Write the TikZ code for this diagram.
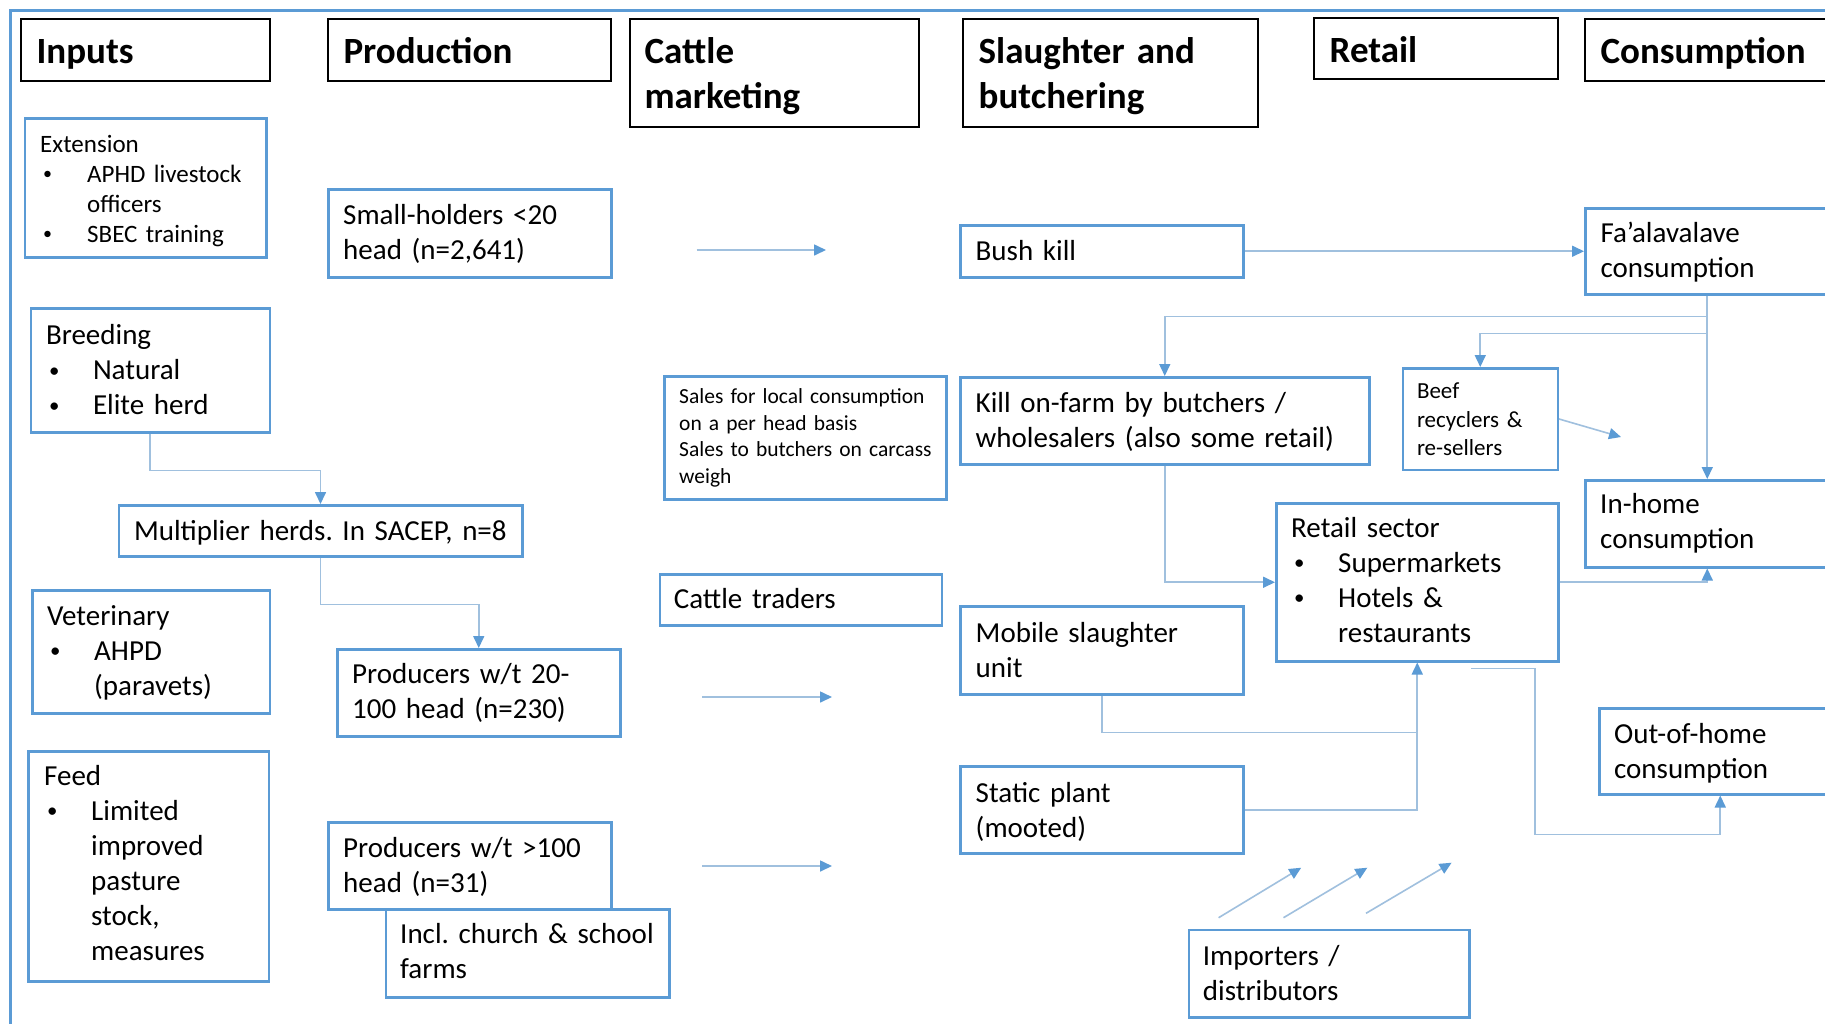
\documentclass[tikz,border=0pt]{standalone}
\usepackage{fontspec}
\setmainfont{Carlito}
\usetikzlibrary{arrows.meta,calc}
\definecolor{bblue}{RGB}{91,155,213}
\definecolor{cblue}{RGB}{160,192,222}
\newcommand\tst{\rule{0pt}{1em}}
\newcommand\bitem{\makebox[47pt][l]{\hspace{3pt}\raisebox{0.1em}{\scalebox{0.72}{\textbullet}}}}
\newcommand\bcont{\hspace*{47pt}}
\frenchspacing
\begin{document}
\begin{tikzpicture}[x=1pt,y=-1pt,
  hdr/.style={draw=black, line width=2.2pt, inner sep=0pt, anchor=north west},
  bx/.style={draw=bblue, line width=2.5pt, inner sep=0pt, anchor=north west},
  conn/.style={draw=cblue, line width=1.6pt},
  arr/.style={conn, -{Triangle[length=12pt,width=11pt,color=bblue]}},
  txt/.style={inner sep=0pt, anchor=north west, align=left, text width=460pt, yshift=-2pt},
  fh/.style={txt, font=\bfseries\fontsize{37}{45}\selectfont},
  fb/.style={txt, font=\fontsize{29}{35}\selectfont},
  fe/.style={txt, font=\fontsize{25}{30}\selectfont},
  fsm/.style={txt, font=\fontsize{21.5}{26.7}\selectfont},
  fr/.style={txt, font=\fontsize{23}{28.3}\selectfont}]
\useasboundingbox (0,0) rectangle (1825,1023);
\clip (0,0) rectangle (1825,1023);
\fill[white] (0,0) rectangle (1825,1023);
\draw[bblue, line width=2.5pt] (10.5,1030) -- (10.5,10.5) -- (1830,10.5);

% headers
\node[hdr, minimum width=249pt, minimum height=62pt] (hin) at (19.5,18) {};
\node[hdr, minimum width=283pt, minimum height=62pt] (hprod) at (327,18) {};
\node[hdr, minimum width=289pt, minimum height=108pt] (hcat) at (629,18) {};
\node[hdr, minimum width=295pt, minimum height=108pt] (hsla) at (962,18) {};
\node[hdr, minimum width=244pt, minimum height=61pt] (hret) at (1313,17) {};
\node[hdr, minimum width=244pt, minimum height=62pt] (hcon) at (1584,18) {};
\node[fh] (thin) at (36.4,24.7) {\tst Inputs};
\node[fh] (thprod) at (343.3,24.7) {\tst Production};
\node[fh] (thcat) at (644.4,24.7) {\tst Cattle\\marketing};
\node[fh] (thsla) at (978.5,24.7) {\tst Slaughter and\\butchering};
\node[fh] (thret) at (1329.5,23) {\tst Retail};
\node[fh] (thcon) at (1600.3,24.7) {\tst Consumption};

% boxes
\node[bx, minimum width=241.5pt, minimum height=139pt] (ext) at (23.5,117) {};
\node[bx, minimum width=283pt, minimum height=88pt] (small) at (327,188) {};
\node[bx, minimum width=239pt, minimum height=124pt] (breed) at (29.5,307) {};
\node[bx, minimum width=282pt, minimum height=123pt] (sales) at (663,375) {};
\node[bx, minimum width=403.5pt, minimum height=51pt] (mult) at (117.5,504) {};
\node[bx, minimum width=237.5pt, minimum height=123pt] (vet) at (31,589) {};
\node[bx, minimum width=283pt, minimum height=87pt] (prod2) at (336,648) {};
\node[bx, minimum width=282pt, minimum height=51pt] (traders) at (658.5,573) {};
\node[bx, minimum width=240.5pt, minimum height=230pt] (feed) at (27,750) {};
\node[bx, minimum width=283pt, minimum height=87pt] (prod3) at (327,821) {};
\node[bx, minimum width=283.5pt, minimum height=88pt] (incl) at (384.5,908) {};
\node[bx, minimum width=283pt, minimum height=52pt] (bush) at (959,224) {};
\node[bx, minimum width=244pt, minimum height=86pt] (faal) at (1584,207) {};
\node[bx, minimum width=409pt, minimum height=87pt] (kill) at (959,376) {};
\node[bx, minimum width=155pt, minimum height=101.5pt] (beef) at (1401.5,367) {};
\node[bx, minimum width=244pt, minimum height=87pt] (inhome) at (1584,479) {};
\node[bx, minimum width=282pt, minimum height=158pt] (retail) at (1275,502) {};
\node[bx, minimum width=283pt, minimum height=88pt] (mobile) at (959,605) {};
\node[bx, minimum width=283pt, minimum height=87pt] (static) at (959,765) {};
\node[bx, minimum width=242pt, minimum height=86pt] (outhome) at (1598,707) {};
\node[bx, minimum width=280.5pt, minimum height=87.5pt] (imp) at (1187.5,928.5) {};

% texts
\node[fe] (text) at (40,125) {\tst Extension\\\bitem APHD livestock\\\bcont officers\\\bitem SBEC training};
\node[fb] (tsmall) at (343,193.7) {\tst Small-holders <20\\head (n=2,641)};
\node[fb] (tbreed) at (45.8,313.7) {\tst Breeding\\\bitem Natural\\\bitem Elite herd};
\node[fsm] (tsales) at (679,379.7) {\tst Sales for local consumption\\on a per head basis\\Sales to butchers on carcass\\weigh};
\node[fb] (tmult) at (133.8,509) {\tst Multiplier herds. In SACEP, n=8};
\node[fb] (tvet) at (47,594.3) {\tst Veterinary\\\bitem AHPD\\\bcont (paravets)};
\node[fb] (tprod2) at (352,652.7) {\tst Producers w/t 20-\\100 head (n=230)};
\node[fb] (ttraders) at (673.6,577.7) {\tst Cattle traders};
\node[fb] (tfeed) at (44,754.3) {\tst Feed\\\bitem Limited\\\bcont improved\\\bcont pasture\\\bcont stock,\\\bcont measures};
\node[fb] (tprod3) at (343,826) {\tst Producers w/t >100\\head (n=31)};
\node[fb] (tincl) at (400,912.7) {\tst Incl. church \& school\\farms};
\node[fb] (tbush) at (975.5,229.3) {\tst Bush kill};
\node[fb] (tfaal) at (1600.3,211) {\tst Fa’alavalave\\consumption};
\node[fb] (tkill) at (975.5,381) {\tst Kill on-farm by butchers /\\wholesalers (also some retail)};
\node[fr] (tbeef) at (1416.8,373.7) {\tst Beef\\recyclers \&\\re-sellers};
\node[fb] (tinhome) at (1600,482.7) {\tst In-home\\consumption};
\node[fb] (tretail) at (1291,506) {\tst Retail sector\\\bitem Supermarkets\\\bitem Hotels \&\\\bcont restaurants};
\node[fb] (tmobile) at (975.5,611) {\tst Mobile slaughter\\unit};
\node[fb] (tstatic) at (975.5,771) {\tst Static plant\\(mooted)};
\node[fb] (touthome) at (1613.9,712.7) {\tst Out-of-home\\consumption};
\node[fb] (timp) at (1202.7,934.3) {\tst Importers /\\distributors};

% free coordinates
\coordinate (a1s) at (696.5,250);
\coordinate (a1e) at (826,250);
\coordinate (a2s) at (702,697);
\coordinate (a2e) at (832,697);
\coordinate (a3s) at (702,866);
\coordinate (a3e) at (832,866);
\coordinate (beefend) at (1621,437);
\coordinate (i1s) at (1218.6,917.7);
\coordinate (i1e) at (1301.2,867.7);
\coordinate (i2s) at (1283.5,917.7);
\coordinate (i2e) at (1367.3,867.7);
\coordinate (i3s) at (1366,913.3);
\coordinate (i3e) at (1451.6,862.7);

% connectors
\draw[arr] (breed.south) -- ++(0,37) -| (mult.north);
\draw[arr] (mult.south) -- ++(0,47) -| (prod2.north);
\draw[arr] (a1s) -- (a1e);
\draw[arr] (a2s) -- (a2e);
\draw[arr] (a3s) -- (a3e);
\draw[arr] (bush.east) -- (faal.west);
\draw[arr] (faal.south) -- (inhome.north);
\draw[arr] ($(faal.south)+(0,21)$) -| (kill.north);
\draw[arr] ($(faal.south)+(0,38)$) -| (beef.north);
\draw[arr] (beef.east) -- (beefend);
\draw[arr] (kill.south) |- (retail.west);
\draw[arr] (retail.east) -| (inhome.south);
\draw[conn] (mobile.south) |- ($(retail.south)+(0,70)$);
\draw[arr] (static.east) -| (retail.south);
\draw[arr] ($(retail.south)+(54,6)$) -- ++(64,0) |- ($(outhome.south)+(0,39)$) -- (outhome.south);
\draw[arr] (i1s) -- (i1e);
\draw[arr] (i2s) -- (i2e);
\draw[arr] (i3s) -- (i3e);
\end{tikzpicture}
\end{document}
